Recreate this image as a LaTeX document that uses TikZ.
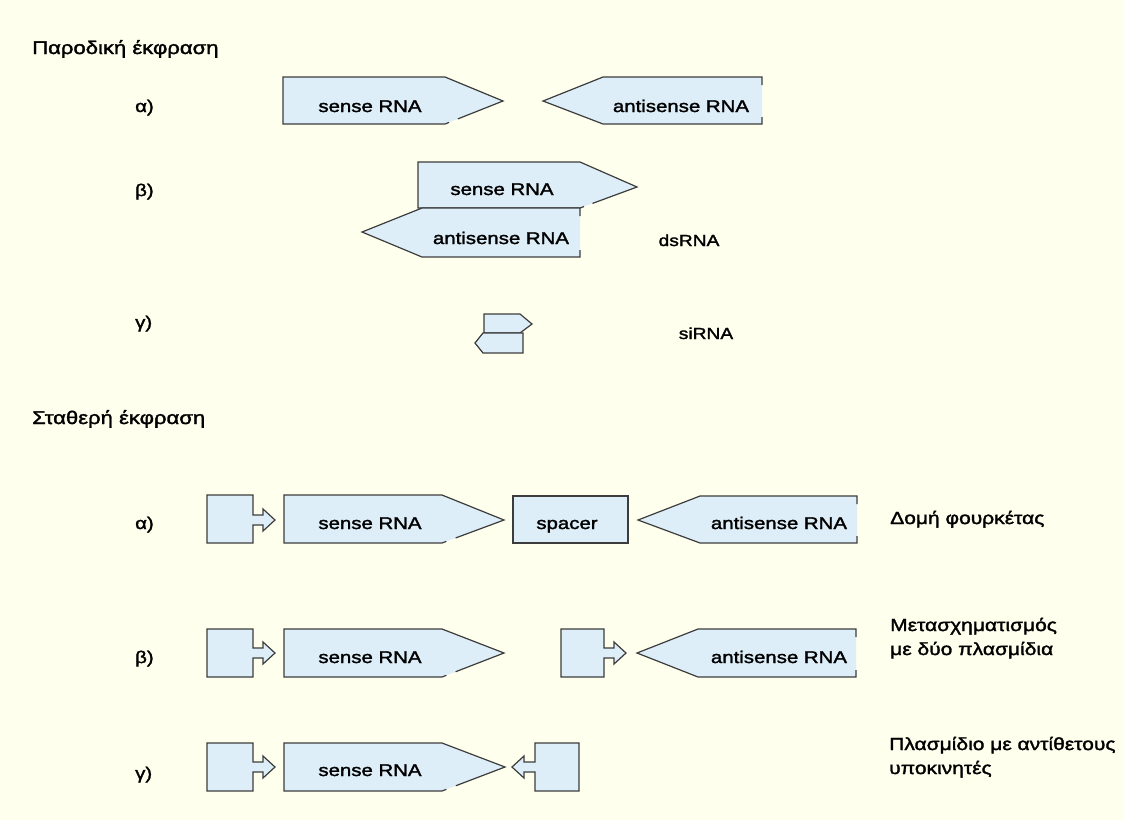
\documentclass[tikz,border=0pt]{standalone}
\usepackage{fontspec}
\setmainfont{Liberation Sans}[FakeStretch=1.2, FakeBold=1.8]
\usetikzlibrary{calc}
\definecolor{bgcol}{RGB}{255,255,238}
\definecolor{rnafill}{RGB}{221,238,248}
\definecolor{edgecol}{RGB}{60,60,60}
\tikzset{
  shapeline/.style={draw=edgecol, line width=1.2pt, line join=miter},
  lbl/.style={font=\fontsize{17}{20}\selectfont, inner sep=0pt, anchor=base},
  sidelbl/.style={font=\fontsize{17.5}{20}\selectfont, inner sep=0pt, anchor=base west},
  smalllbl/.style={font=\fontsize{16}{19}\selectfont, inner sep=0pt, anchor=base},
  letterlbl/.style={font=\fontsize{17}{20}\selectfont, inner sep=0pt, anchor=base west},
  head/.style={font=\fontsize{18.4}{22}\selectfont, inner sep=0pt, anchor=base west},
}
% sense arrow: x0, xflat, xtip, ytop, ymid, ybot
\newcommand\SenseShape[6]{%
  \fill[rnafill] (#1,#4) -- (#2,#4) -- (#3,#5) -- (#2,#6) -- (#1,#6) -- cycle;
  \draw[shapeline] ($(#2,#6)!0.22!(#3,#5)$) -- (#3,#5) -- (#2,#4) -- (#1,#4) -- (#1,#6) -- (#2,#6) -- ($(#2,#6)!0.07!(#3,#5)$);
}
% antisense arrow: xtip, xflat, xright, ytop, ymid, ybot
\newcommand\AntiShape[6]{%
  \fill[rnafill] (#1,#5) -- (#2,#4) -- (#3,#4) -- (#3,#6) -- (#2,#6) -- cycle;
  \draw[shapeline] (#3,#4+8) -- (#3,#4) -- (#2,#4) -- (#1,#5) -- (#2,#6) -- (#3,#6) -- (#3,#6-7);
}
% promoter pointing right: x0, x1, ytop, ymid, ybot
\newcommand\PromRight[5]{%
  \filldraw[shapeline, fill=rnafill] (#1,#3) -- (#2,#3) -- (#2,#4-5) -- (#2+10,#4-5) -- (#2+10,#4-11) -- (#2+22,#4) -- (#2+10,#4+11) -- (#2+10,#4+5) -- (#2,#4+5) -- (#2,#5) -- (#1,#5) -- cycle;
}
% promoter pointing left: x0, x1, ytop, ymid, ybot
\newcommand\PromLeft[5]{%
  \filldraw[shapeline, fill=rnafill] (#2,#3) -- (#1,#3) -- (#1,#4-5) -- (#1-11,#4-5) -- (#1-11,#4-11) -- (#1-23,#4) -- (#1-11,#4+11) -- (#1-11,#4+5) -- (#1,#4+5) -- (#1,#5) -- (#2,#5) -- cycle;
}
\begin{document}
\begin{tikzpicture}[x=1pt,y=-1pt]
\useasboundingbox (0,0) rectangle (1124,820);
\fill[bgcol] (0,0) rectangle (1124,820);

% headings
\node[head] (h1) at (32,54) {Παροδική έκφραση};
\node[head] (h2) at (32,424) {Σταθερή έκφραση};

% left labels
\node[letterlbl] (la1) at (135,112) {α)};
\node[letterlbl] (lb1) at (135,196) {β)};
\node[letterlbl] (lg1) at (135,328) {γ)};
\node[letterlbl] (la2) at (135,529) {α)};
\node[letterlbl] (lb2) at (135,663) {β)};
\node[letterlbl] (lg2) at (135,779) {γ)};

% transient alpha
\SenseShape{283}{445}{503}{77}{101}{124}
\AntiShape{543}{603}{762}{77}{101}{124}
\node[lbl] (s1) at (370,112) {sense RNA};
\node[lbl] (a1) at (681,112) {antisense RNA};

% transient beta
\SenseShape{418}{580}{637}{162}{187}{208}
\AntiShape{362}{422}{580}{208}{232}{257}
\node[lbl] (s2) at (502,195) {sense RNA};
\node[lbl] (a2) at (501,244) {antisense RNA};
\node[smalllbl] (ds) at (689,246) {dsRNA};

% transient gamma (siRNA)
\filldraw[shapeline, fill=rnafill] (484,314) -- (520,314) -- (532,324) -- (520,333) -- (484,333) -- cycle;
\filldraw[shapeline, fill=rnafill] (475,343) -- (483,333) -- (523,333) -- (523,353) -- (483,353) -- cycle;
\node[smalllbl] (si) at (706,339) {siRNA};

% stable alpha
\PromRight{207}{253}{495}{520}{543}
\SenseShape{284}{442}{504}{495}{520}{543}
\filldraw[shapeline, fill=rnafill] (513,496) rectangle (628,543);
\AntiShape{638}{700}{857}{496}{520}{543}
\node[lbl] (s3) at (370,529) {sense RNA};
\node[lbl] (sp) at (567,529) {spacer};
\node[lbl] (a3) at (779,529) {antisense RNA};
\node[sidelbl] (r1) at (890,524) {Δομή φουρκέτας};

% stable beta
\PromRight{207}{253}{629}{653}{677}
\SenseShape{284}{442}{504}{629}{653}{677}
\PromRight{561}{604}{629}{653}{677}
\AntiShape{637}{698}{856}{629}{653}{677}
\node[lbl] (s4) at (370,663) {sense RNA};
\node[lbl] (a4) at (779,663) {antisense RNA};
\node[sidelbl] (r2a) at (890,631) {Μετασχηματισμός};
\node[sidelbl] (r2b) at (890,655) {με δύο πλασμίδια};

% stable gamma
\PromRight{207}{253}{743}{767}{791}
\SenseShape{284}{442}{505}{743}{767}{791}
\PromLeft{535}{579}{743}{767}{791}
\node[lbl] (s5) at (370,776) {sense RNA};
\node[sidelbl] (r3a) at (889,750) {Πλασμίδιο με αντίθετους};
\node[sidelbl] (r3b) at (889,774) {υποκινητές};
\end{tikzpicture}
\end{document}
